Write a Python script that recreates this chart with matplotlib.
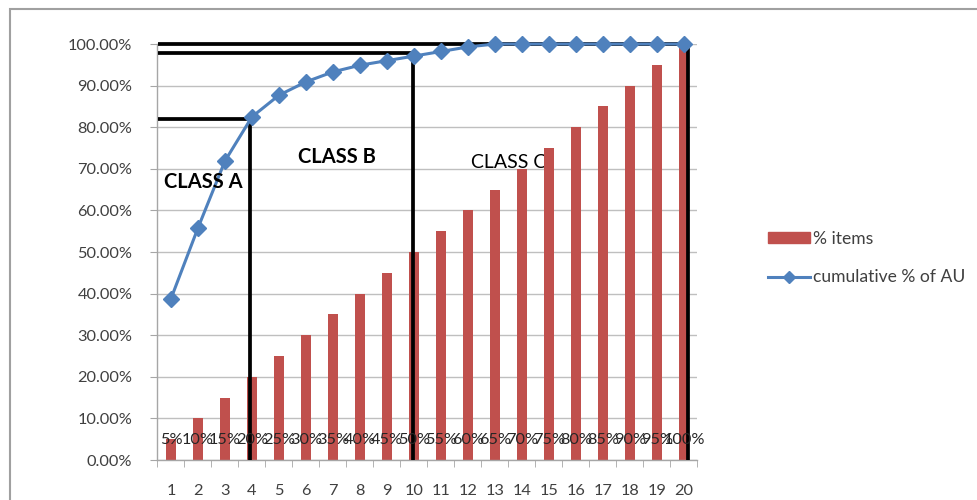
import matplotlib
matplotlib.use("Agg")
import matplotlib.pyplot as plt
from matplotlib.patches import Rectangle, Patch
from matplotlib.lines import Line2D
from matplotlib.ticker import FixedLocator, PercentFormatter

plt.rcParams['font.family'] = ['Lato', 'DejaVu Sans']

# Item index (x categories)
categories = [1, 2, 3, 4, 5, 6, 7, 8, 9, 10,
              11, 12, 13, 14, 15, 16, 17, 18, 19, 20]
# Share of items (%)
pct_items = [5, 10, 15, 20, 25, 30, 35, 40, 45, 50,
             55, 60, 65, 70, 75, 80, 85, 90, 95, 100]
item_labels = ["5%", "10%", "15%", "20%", "25%", "30%", "35%", "40%", "45%", "50%",
               "55%", "60%", "65%", "70%", "75%", "80%", "85%", "90%", "95%", "100%"]
# Cumulative share of annual usage (%)
cum_au = [38.8, 55.8, 71.9, 82.5, 87.7, 90.9, 93.3, 94.9, 96.0, 97.1,
          98.2, 99.3, 100, 100, 100, 100, 100, 100, 100, 100]
y_ticks = [0, 10, 20, 30, 40, 50, 60, 70, 80, 90, 100]

# ABC class boundaries: (item position, cumulative %)
class_a_edge = (3.93, 82.0)
class_b_edge = (9.97, 97.8)
class_c_edge = (20.15, 100.0)

BAR = "#C0504D"
LINE = "#4F81BD"
GRID = "#BFBFBF"
AXIS = "#A6A6A6"
TEXT = "#404040"

W, H = 978, 500
fig = plt.figure(figsize=(W / 100, H / 100), dpi=100)

# chart-area border
fig.add_artist(Rectangle((10 / W, -0.1), 1.2, 1 - 9 / H + 0.1, transform=fig.transFigure,
                         fill=False, edgecolor="#A0A0A0", linewidth=1.5))

ax = fig.add_axes([157.5 / W, 1 - 460 / H, 540 / W, 416 / H])
ax.set_xlim(0.5, 20.5)
ax.set_ylim(0, 100)

for s in ("top", "right"):
    ax.spines[s].set_visible(False)
for s in ("left", "bottom"):
    ax.spines[s].set_color(AXIS)
    ax.spines[s].set_linewidth(1.0)

ax.yaxis.set_major_locator(FixedLocator(y_ticks))
ax.yaxis.set_major_formatter(PercentFormatter(decimals=2))
ax.grid(axis="y", color=GRID, linewidth=1.0, zorder=0)
ax.set_axisbelow(True)

ax.set_xticks(categories)
ax.set_xticks([c - 0.5 for c in categories] + [20.5], minor=True)
ax.tick_params(axis="x", which="major", length=0, pad=17, labelsize=11.8, labelcolor=TEXT)
ax.tick_params(axis="x", which="minor", length=5, color=AXIS, direction="out")
ax.tick_params(axis="y", which="major", length=5, color=AXIS, pad=13, labelsize=11.8,
               labelcolor=TEXT)

ax.bar(categories, pct_items, width=0.37, color=BAR, zorder=2)

for x, lab in zip(categories, item_labels):
    ax.text(x, 4.8, lab, ha="center", va="center", fontsize=11.8, color="#262626", zorder=5)

# class boundary box lines
ax_, ay_ = class_a_edge
bx_, by_ = class_b_edge
cx_, cy_ = class_c_edge
kw = dict(color="black", linewidth=2.7, solid_capstyle="butt", zorder=4, clip_on=False)
ax.plot([0.52, ax_, ax_], [ay_, ay_, 0], **kw)
ax.plot([0.52, bx_, bx_], [by_, by_, 0], **kw)
ax.plot([0.52, cx_, cx_], [cy_, cy_, 0], **kw)

ax.plot(categories, cum_au, color=LINE, linewidth=2.2, marker="D", markersize=8.5,
        markerfacecolor=LINE, markeredgecolor=LINE, zorder=6, clip_on=False)

ax.text(2.19, 66.8, "CLASS A", ha="center", va="center", fontsize=14.5,
        fontweight="bold", color="black", zorder=7)
ax.text(7.15, 72.8, "CLASS B", ha="center", va="center", fontsize=14.5,
        fontweight="bold", color="black", zorder=7)
ax.text(13.5, 71.6, "CLASS C", ha="center", va="center", fontsize=14,
        color="black", zorder=1)

handles = [Patch(facecolor=BAR, edgecolor=BAR),
           Line2D([], [], color=LINE, linewidth=2.2, marker="D", markersize=6.5)]
fig.legend(handles, ["% items", "cumulative % of AU"], loc="upper left",
           bbox_to_anchor=(752 / W, 1 - 215 / H), frameon=False, fontsize=12.6,
           handlelength=2.4, handleheight=0.6, handletextpad=0.2, labelspacing=1.3,
           labelcolor=TEXT)

fig.savefig("out.png", dpi=100)
